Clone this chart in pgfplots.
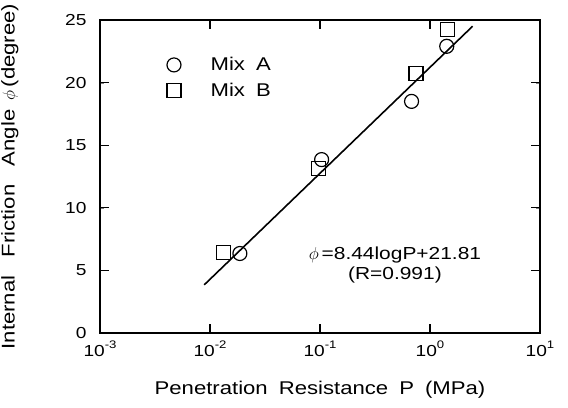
\documentclass[border=0pt]{standalone}
\usepackage{pgfplots}
\pgfplotsset{compat=1.18}
\usepackage{fontspec}
\setmainfont[FakeStretch=1.2]{Liberation Sans}
\newcommand{\lab}{\fontsize{18.5}{22}\selectfont}
\newcommand{\eqf}{\fontsize{17.5}{21}\selectfont}
\newcommand{\sups}[1]{10\raisebox{0.5em}{\fontsize{11}{12}\selectfont #1}}
\begin{document}
\fontsize{16}{19}\selectfont
\begin{tikzpicture}
\path[use as bounding box] (-100bp,-75bp) rectangle (468bp,333bp);
\begin{axis}[
  name=ax,
  at={(0,0)}, anchor=south west,
  scale only axis, width=440bp, height=313bp,
  xmode=log, xmin=1e-3, xmax=10, ymin=0, ymax=25,
  xtick={1e-3,1e-2,1e-1,1,10},
  xticklabels={\sups{-3},\sups{-2},\sups{-1},\sups{0},\sups{1}},
  minor x tick style={draw=none},
  ytick={0,5,10,15,20,25},
  yticklabels={0,5,10,15,20,25},
  axis line style={line width=2.2bp},
  xticklabel style={yshift=-2bp},
  yticklabel style={xshift=-8bp},
  xlabel={\lab Penetration\hspace{0.6em}Resistance\hspace{0.6em}P\hspace{0.6em}(MPa)},
  ylabel={\lab Internal\hspace{1em}Friction\hspace{1em}Angle\hspace{0.5em}$\phi$\,(degree)},
  xlabel style={yshift=-14bp},
  ylabel style={yshift=36bp},
  legend style={draw=none, fill=none, at={(0.145,0.895)}, anchor=north west, row sep=6bp},
]
\addplot[only marks, mark=o, mark size=7bp, line width=1.2bp, black]
  coordinates {(0.0187,6.35) (0.1035,13.85) (0.68,18.5) (1.42,22.9)};
\addlegendentry{\lab\hspace{1.5em}Mix\hspace{0.6em}A}
\addplot[only marks, mark=square, mark size=7bp, line width=1.2bp, black]
  coordinates {(0.0132,6.4) (0.0966,13.15) (0.746,20.75) (1.45,24.25)};
\addlegendentry{\lab\hspace{1.5em}Mix\hspace{0.6em}B}
\addplot[line width=1.6bp, black, forget plot]
  coordinates {(0.00887,3.85) (2.44,24.5)};
\node[align=center, inner sep=0pt] at (axis cs:0.48,5.45)
  {{\eqf $\phi$\,=8.44logP+21.81}\\[1pt]{\eqf (R=0.991)}};
\end{axis}
% frame and inward ticks, drawn on top of the axis
\draw[draw=black, opacity=1, line width=2.2bp, line cap=rect] (ax.south west) rectangle (ax.north east);
\foreach \x in {110,220,330} {
  \draw[draw=black, opacity=1, line width=1.3bp] (\x bp,0bp) -- (\x bp,9bp);
  \draw[draw=black, opacity=1, line width=1.3bp] (\x bp,313bp) -- (\x bp,304bp);
}
\foreach \y in {62.6,125.2,187.8,250.4} {
  \draw[draw=black, opacity=1, line width=1.3bp] (0bp,\y bp) -- (9bp,\y bp);
  \draw[draw=black, opacity=1, line width=1.3bp] (440bp,\y bp) -- (431bp,\y bp);
}
\end{tikzpicture}
\end{document}
